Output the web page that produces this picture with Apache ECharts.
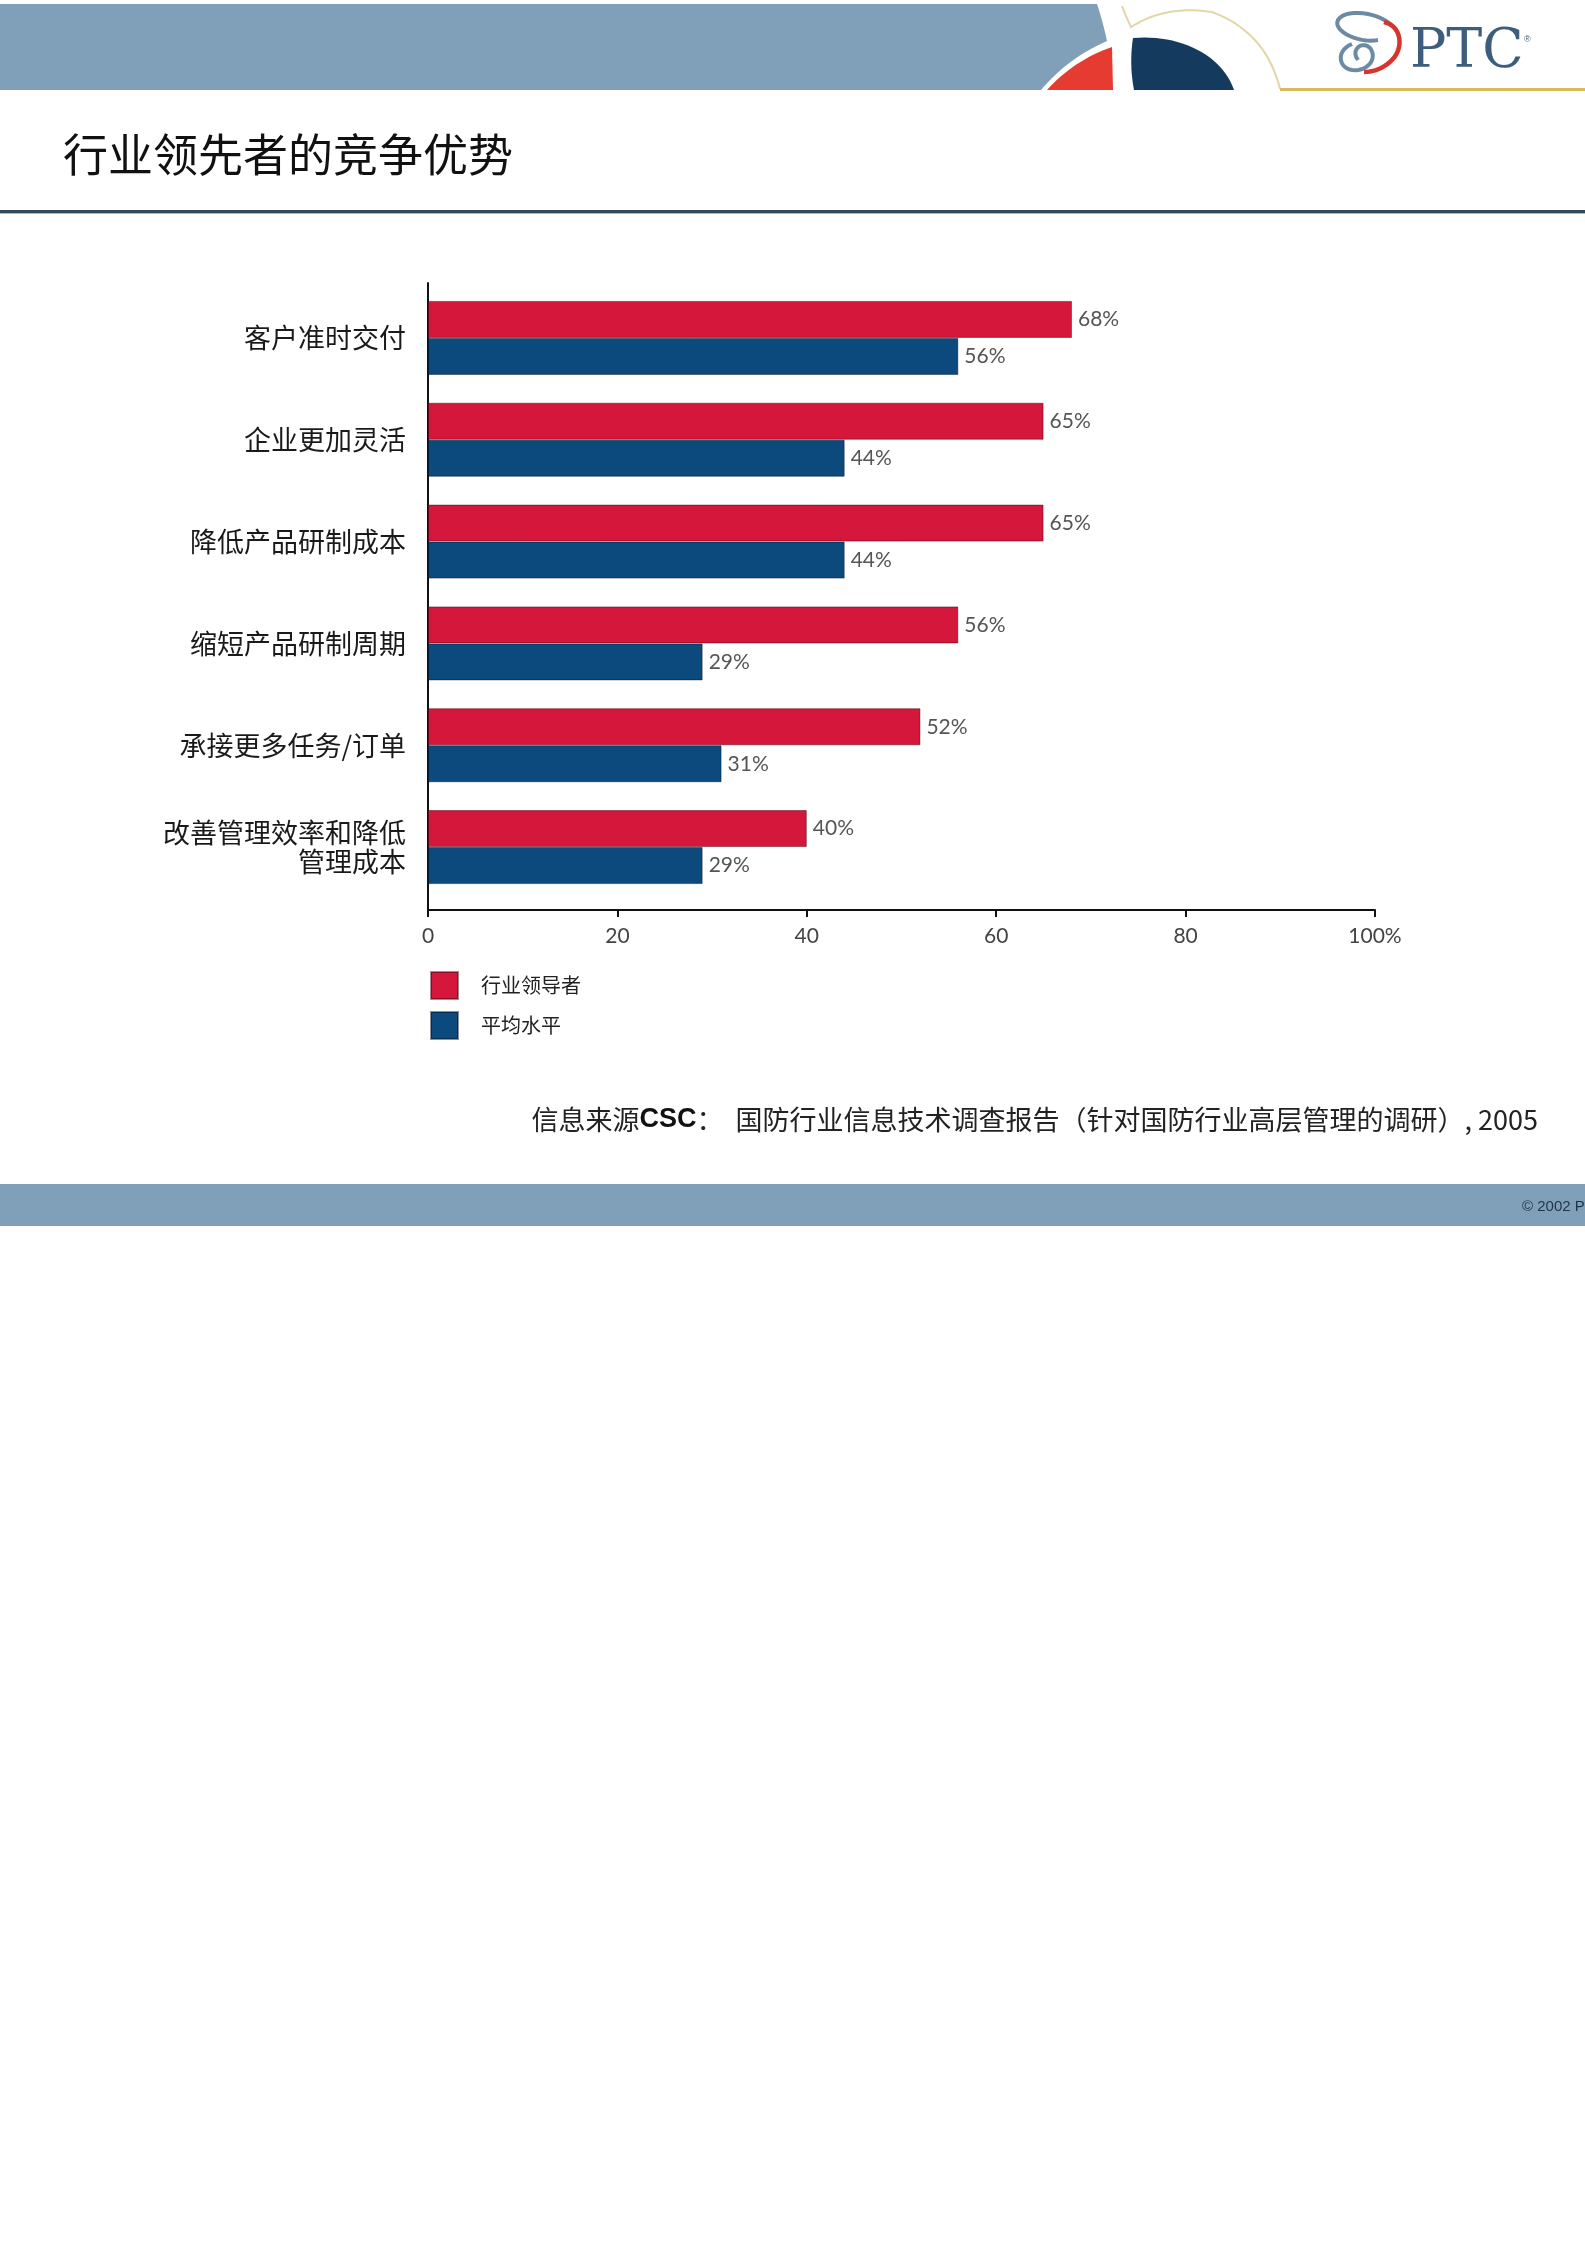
<!DOCTYPE html>
<html>
<head>
<meta charset="utf-8">
<script src="https://cdn.jsdelivr.net/npm/echarts@6/dist/echarts.min.js"></script>
<style>
html,body{margin:0;padding:0;background:#fff;}
#main{width:1585px;height:2244px;}
</style>
</head>
<body>
<div id="main"></div>
<script>
const pageTitle = '行业领先者的竞争优势';
const categories = ['客户准时交付', '企业更加灵活', '降低产品研制成本', '缩短产品研制周期', '承接更多任务/订单', '改善管理效率和降低\n管理成本'];
const seriesNames = ['行业领导者', '平均水平'];
const leaders = [68, 65, 65, 56, 52, 40];
const average = [56, 44, 44, 29, 31, 29];
const xMin = 0, xMax = 100, xStep = 20;
const sourceText = ['信息来源', 'CSC', '：  国防行业信息技术调查报告（针对国防行业高层管理的调研）, 2005'];
const footerText = '© 2002 PTC';

const RED = '#d4173a', BLUE = '#0c4a7e';
const CJK = '"Noto Sans CJK SC", sans-serif';

// helpers for decorative header curves
function quad(p0, p1, p2, n) {
  const pts = [];
  for (let i = 0; i <= n; i++) {
    const t = i / n, u = 1 - t;
    pts.push([u*u*p0[0] + 2*u*t*p1[0] + t*t*p2[0], u*u*p0[1] + 2*u*t*p1[1] + t*t*p2[1]]);
  }
  return pts;
}
function cubic(p0, p1, p2, p3, n) {
  const pts = [];
  for (let i = 0; i <= n; i++) {
    const t = i / n, u = 1 - t;
    pts.push([
      u*u*u*p0[0] + 3*u*u*t*p1[0] + 3*u*t*t*p2[0] + t*t*t*p3[0],
      u*u*u*p0[1] + 3*u*u*t*p1[1] + 3*u*t*t*p2[1] + t*t*t*p3[1]
    ]);
  }
  return pts;
}

const bandPts = [[0, 4], [1097, 4]]
  .concat(quad([1097, 4], [1103, 22], [1107, 41], 10))
  .concat(quad([1107, 41], [1068, 58], [1041, 90], 16))
  .concat([[0, 90]]);
const redPts = quad([1047, 90], [1074, 60], [1112, 47], 16).concat([[1113, 90]]);
const navyPts = cubic([1133, 38], [1180, 34], [1222, 55], [1234, 90], 24)
  .concat([[1134, 90]])
  .concat(quad([1134, 90], [1129, 64], [1133, 38], 10));
const beigePts = quad([1122, 6], [1126, 17], [1131, 27], 6)
  .concat(quad([1131, 27], [1165, 5], [1212, 12], 14))
  .concat(quad([1212, 12], [1266, 32], [1280, 89], 18));
const loop1 = cubic([1392, 26], [1380, 12], [1345, 8], [1338, 20], 14)
  .concat(cubic([1338, 20], [1332, 32], [1362, 44], [1378, 40], 14));
const loop2 = cubic([1352, 44], [1336, 50], [1338, 68], [1352, 70], 14)
  .concat(cubic([1352, 70], [1368, 72], [1378, 58], [1370, 48], 14))
  .concat(cubic([1370, 48], [1362, 40], [1350, 50], [1358, 60], 10));
const loopRed = cubic([1384, 22], [1402, 26], [1404, 48], [1392, 60], 14)
  .concat(cubic([1392, 60], [1384, 68], [1374, 72], [1364, 72], 10));

const chart = echarts.init(document.getElementById('main'), null, {renderer: 'canvas'});

const barLabel = {
  show: true, position: 'right', distance: 6,
  formatter: p => p.value + '%',
  color: '#555', fontSize: 21, fontFamily: 'Lato'
};

chart.setOption({
  animation: false,
  backgroundColor: '#ffffff',
  title: [
    {
      text: pageTitle, left: 63, top: 132, padding: 0,
      textStyle: {fontSize: 45, fontWeight: 'normal', color: '#111', fontFamily: CJK}
    },
    {
      text: '{a|' + sourceText[0] + '}{b|' + sourceText[1] + '}{a|' + sourceText[2] + '}',
      right: 47, top: 1106, padding: 0,
      textStyle: {
        fontWeight: 'normal',
        rich: {
          a: {fontSize: 27, color: '#222', fontFamily: CJK, fontWeight: 'normal'},
          b: {fontSize: 27, color: '#111', fontFamily: '"Liberation Sans", Arial', fontWeight: 'bold'}
        }
      }
    }
  ],
  legend: {
    data: seriesNames,
    orient: 'vertical', left: 430, top: 971, padding: 0,
    itemWidth: 27, itemHeight: 27, itemGap: 11,
    icon: 'rect',
    textStyle: {fontSize: 20, color: '#222', fontFamily: CJK, padding: [0, 0, 0, 18]}
  },
  grid: [
    {left: 428, top: 287, width: 947, height: 611, containLabel: false},
    {left: 428, top: 283, width: 947, height: 627, containLabel: false}
  ],
  xAxis: [
    {gridIndex: 0, type: 'value', min: xMin, max: xMax, show: false},
    {
      gridIndex: 1, type: 'value', min: xMin, max: xMax, interval: xStep,
      axisLine: {show: true, lineStyle: {color: '#111', width: 2}},
      axisTick: {show: true, length: 7, lineStyle: {color: '#111', width: 2}},
      axisLabel: {margin: 16, fontSize: 21, color: '#444', fontFamily: 'Lato',
        formatter: v => v === xMax ? v + '%' : String(v)},
      splitLine: {show: false}
    }
  ],
  yAxis: [
    {
      gridIndex: 0, type: 'category', data: categories, inverse: true,
      axisLine: {show: false}, axisTick: {show: false},
      axisLabel: {margin: 22, fontSize: 27, color: '#1a1a1a', fontFamily: CJK, lineHeight: 29, align: 'right'}
    },
    {
      gridIndex: 1, type: 'value', min: 0, max: 1,
      axisLine: {show: true, lineStyle: {color: '#111', width: 2}},
      axisTick: {show: false}, axisLabel: {show: false}, splitLine: {show: false}
    }
  ],
  series: [
    {
      name: seriesNames[0], type: 'bar', xAxisIndex: 0, yAxisIndex: 0,
      data: leaders, barWidth: 37, barGap: '0%',
      itemStyle: {color: RED, borderColor: 'rgba(60,0,10,0.45)', borderWidth: 1},
      label: barLabel
    },
    {
      name: seriesNames[1], type: 'bar', xAxisIndex: 0, yAxisIndex: 0,
      data: average, barWidth: 37, barGap: '0%',
      itemStyle: {color: BLUE, borderColor: 'rgba(0,10,30,0.45)', borderWidth: 1},
      label: barLabel
    }
  ],
  graphic: [
    {type: 'polygon', shape: {points: bandPts}, style: {fill: '#809fb9'}},
    {type: 'polygon', shape: {points: redPts}, style: {fill: '#e63b30'}},
    {type: 'polygon', shape: {points: navyPts}, style: {fill: '#143a5d'}},
    {type: 'polyline', shape: {points: beigePts}, style: {fill: null, stroke: '#e2d6a8', lineWidth: 2}},
    {type: 'rect', shape: {x: 1280, y: 88, width: 305, height: 3}, style: {fill: '#d9b95a'}},
    {type: 'polyline', shape: {points: loop1}, style: {fill: null, stroke: '#6d8aa5', lineWidth: 4}},
    {type: 'polyline', shape: {points: loop2}, style: {fill: null, stroke: '#6d8aa5', lineWidth: 4}},
    {type: 'polyline', shape: {points: loopRed}, style: {fill: null, stroke: '#d9342c', lineWidth: 4.5}},
    {type: 'text', style: {x: 1410, y: 53, text: 'PTC', fill: '#3c5d7c', fontSize: 54, fontFamily: '"DejaVu Serif", "Liberation Serif", serif', verticalAlign: 'middle', textAlign: 'left'}},
    {type: 'text', style: {x: 1524, y: 40, text: '®', fill: '#3c5d7c', fontSize: 9, fontFamily: 'Liberation Sans', verticalAlign: 'middle'}},
    {type: 'rect', shape: {x: 0, y: 210, width: 1585, height: 3}, style: {fill: '#34495b'}},
    {type: 'rect', shape: {x: 0, y: 213, width: 1585, height: 1}, style: {fill: '#a9b8c4'}},
    {type: 'rect', shape: {x: 0, y: 1184, width: 1585, height: 42}, style: {fill: '#809fb9'}},
    {type: 'text', style: {x: 1522, y: 1207, text: footerText, fill: '#1f3448', fontSize: 15, fontFamily: '"Liberation Sans", Arial', verticalAlign: 'middle'}}
  ]
});
</script>
</body>
</html>
